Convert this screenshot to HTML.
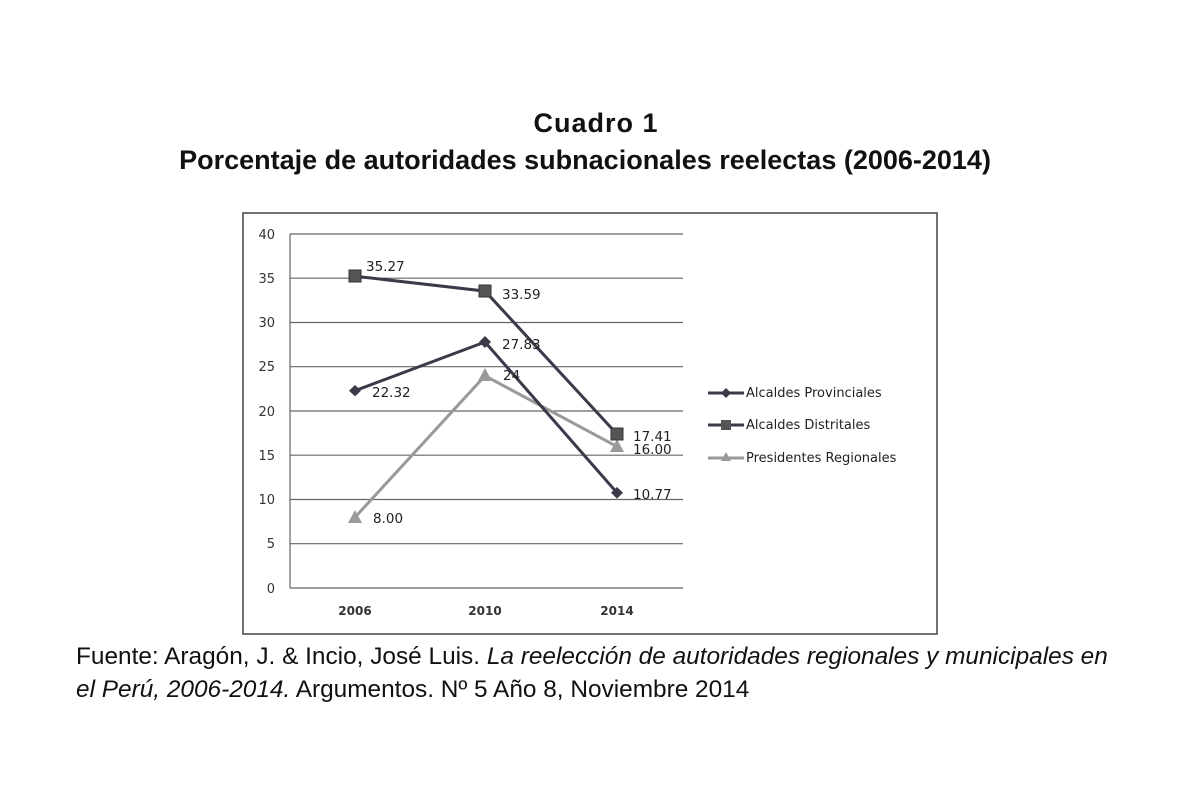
<!DOCTYPE html>
<html><head><meta charset="utf-8"><style>
body{margin:0;width:1200px;height:800px;background:#fff;overflow:hidden;position:relative;font-family:"Liberation Sans",sans-serif;}
.t{position:absolute;left:0;width:1170px;text-align:center;font-weight:bold;font-size:27px;color:#111;line-height:32px;}
.src{position:absolute;left:76px;top:640px;font-size:24.4px;line-height:33px;color:#111;}
</style></head><body>
<div class="t" style="top:107px;left:11px;letter-spacing:1px">Cuadro 1</div>
<div class="t" style="top:144px;left:0">Porcentaje de autoridades subnacionales reelectas (2006-2014)</div>
<svg width="1200" height="800" style="position:absolute;left:0;top:0" font-family="DejaVu Sans, Liberation Sans, sans-serif">
<rect x="243" y="213" width="694" height="421" fill="none" stroke="#444" stroke-width="1.5"/>
<g stroke="#666" stroke-width="1.2">
<line x1="290" x2="683" y1="234" y2="234"/><line x1="290" x2="683" y1="278.2" y2="278.2"/>
<line x1="290" x2="683" y1="322.5" y2="322.5"/><line x1="290" x2="683" y1="366.7" y2="366.7"/>
<line x1="290" x2="683" y1="411" y2="411"/><line x1="290" x2="683" y1="455.2" y2="455.2"/>
<line x1="290" x2="683" y1="499.5" y2="499.5"/><line x1="290" x2="683" y1="543.7" y2="543.7"/>
<line x1="290" x2="683" y1="588" y2="588"/><line x1="290" x2="290" y1="234" y2="588"/>
</g>
<g font-size="13" fill="#333" text-anchor="end">
<text x="275" y="239">40</text><text x="275" y="283">35</text><text x="275" y="327">30</text>
<text x="275" y="371">25</text><text x="275" y="416">20</text><text x="275" y="460">15</text>
<text x="275" y="504">10</text><text x="275" y="548">5</text><text x="275" y="593">0</text>
</g>
<g font-size="12" fill="#333" text-anchor="middle" font-weight="bold">
<text x="355" y="615">2006</text><text x="485" y="615">2010</text><text x="617" y="615">2014</text>
</g>
<polyline points="355,517.3 485,375.8 617,446.6" fill="none" stroke="#999" stroke-width="3"/>
<polyline points="355,390.7 485,342 617,492.8" fill="none" stroke="#3a3a4a" stroke-width="3"/>
<polyline points="355,276.2 485,291.1 617,434.1" fill="none" stroke="#3a3a4a" stroke-width="3"/>
<g fill="#999"><polygon points="355,510 362,523 348,523"/><polygon points="485,368 492,381 478,381"/><polygon points="617,439 624,452 610,452"/></g>
<g fill="#3a3a4a"><polygon points="355,385 361,390.7 355,396.4 349,390.7"/><polygon points="485,336 491,342 485,348 479,342"/><polygon points="617,487 623,492.8 617,498.6 611,492.8"/></g>
<g fill="#555" stroke="#333"><rect x="349" y="270" width="12" height="12"/><rect x="479" y="285" width="12" height="12"/><rect x="611" y="428" width="12" height="12"/></g>
<g font-size="13.5" fill="#222">
<text x="366" y="271">35.27</text><text x="502" y="299">33.59</text><text x="502" y="349">27.83</text>
<text x="503" y="380">24</text><text x="372" y="397">22.32</text><text x="373" y="523">8.00</text>
<text x="633" y="441">17.41</text><text x="633" y="454">16.00</text><text x="633" y="499">10.77</text>
</g>
<g stroke-width="3">
<line x1="708" x2="744" y1="393" y2="393" stroke="#3a3a4a"/><polygon points="726,388 731,393 726,398 721,393" fill="#3a3a4a"/>
<line x1="708" x2="744" y1="425" y2="425" stroke="#3a3a4a"/><rect x="721" y="420" width="10" height="10" fill="#555"/>
<line x1="708" x2="744" y1="458" y2="458" stroke="#999"/><polygon points="726,452 731,461 721,461" fill="#999"/>
</g>
<g font-size="13" fill="#222">
<text x="746" y="397">Alcaldes Provinciales</text><text x="746" y="429">Alcaldes Distritales</text><text x="746" y="462">Presidentes Regionales</text>
</g>
</svg>
<div class="src">Fuente: Aragón, J. &amp; Incio, José Luis. <i>La reelección de autoridades regionales y municipales en<br>el Perú, 2006-2014.</i> Argumentos. Nº 5 Año 8, Noviembre 2014</div>
</body></html>
